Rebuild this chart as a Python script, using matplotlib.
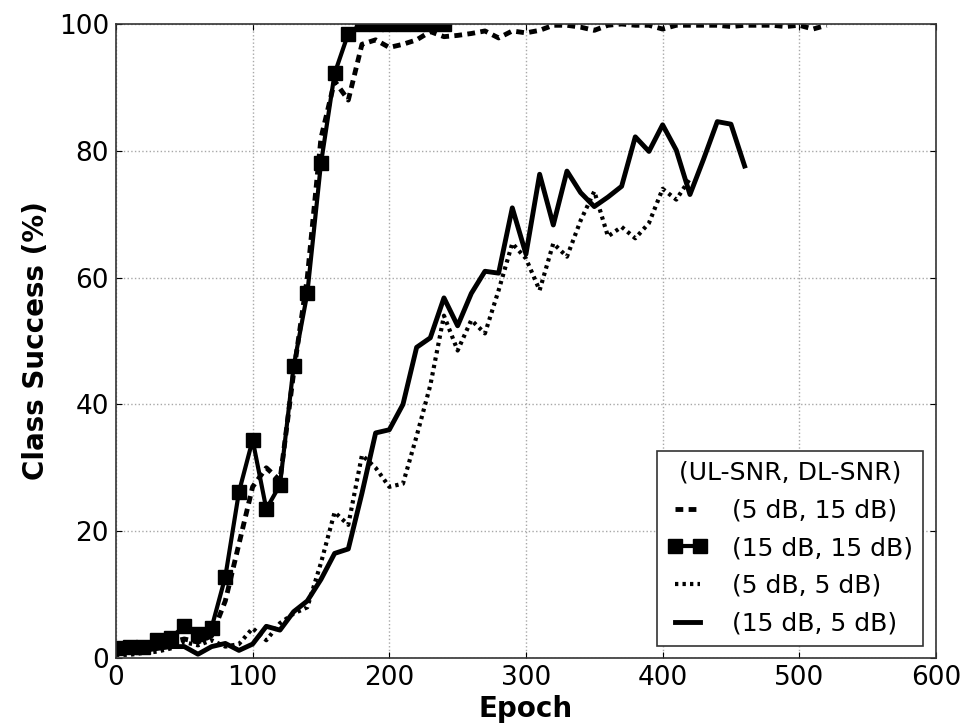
import numpy as np
import matplotlib
matplotlib.use('Agg')
import matplotlib.pyplot as plt

# epochs sampled every 10
epochs_5_15 = np.arange(0, 530, 10)
epochs_15_15 = np.arange(0, 250, 10)
epochs_5_5 = np.arange(0, 430, 10)
epochs_15_5 = np.arange(0, 470, 10)

# (UL 5 dB, DL 15 dB)
succ_5_15 = [1.0, 1.2, 1.5, 2.0, 2.5, 3.0, 2.5, 3.5, 9.0, 18.0,
             27.0, 30.0, 28.0, 45.0, 60.0, 82.0, 91.0, 88.0, 96.8, 97.5,
             96.3, 96.8, 97.5, 98.8, 98.0, 98.2, 98.5, 98.9, 97.8, 98.9,
             98.6, 99.0, 99.8, 99.8, 99.5, 99.0, 99.8, 100.0, 99.8, 99.8,
             99.2, 99.8, 99.8, 99.8, 99.8, 99.6, 99.8, 99.8, 99.8, 99.6,
             99.8, 99.2, 99.8]

# (UL 15 dB, DL 15 dB)
succ_15_15 = [1.5, 1.8, 1.8, 2.8, 3.2, 5.0, 3.8, 4.8, 12.8, 26.2,
              34.4, 23.5, 27.3, 46.0, 57.5, 78.0, 92.2, 98.5, 100.0, 100.0,
              100.0, 100.0, 100.0, 100.0, 100.0]

# (UL 5 dB, DL 5 dB)
succ_5_5 = [0.5, 0.5, 0.8, 1.0, 1.5, 2.5, 2.0, 2.8, 1.8, 2.2,
            4.7, 2.8, 5.5, 7.0, 8.0, 15.0, 23.0, 21.0, 32.0, 30.0,
            27.0, 27.5, 35.0, 43.0, 54.0, 48.5, 53.3, 51.2, 58.0, 65.4,
            63.0, 58.0, 65.4, 63.3, 69.0, 73.6, 66.5, 68.0, 66.2, 68.6,
            74.0, 72.3, 75.6]

# (UL 15 dB, DL 5 dB)
succ_15_5 = [1.0, 1.0, 1.2, 1.5, 1.8, 1.8, 0.6, 1.8, 2.3, 1.2,
             2.2, 5.0, 4.4, 7.3, 9.0, 12.4, 16.5, 17.2, 26.0, 35.5,
             36.0, 40.0, 49.0, 50.5, 56.8, 52.4, 57.5, 61.0, 60.7, 71.0,
             63.7, 76.3, 68.3, 76.8, 73.4, 71.2, 72.7, 74.4, 82.2, 79.9,
             84.1, 80.1, 73.1, 78.7, 84.6, 84.2, 77.6]

fig = plt.figure(figsize=(9.64, 7.27), dpi=100)
ax = fig.add_axes([0.1203, 0.0949, 0.8506, 0.8721])

ax.plot(epochs_5_15, succ_5_15, color='k', lw=3.5, dashes=(1.6, 1.1),
        label='(5 dB, 15 dB)')
ax.plot(epochs_15_15, succ_15_15, color='k', lw=3, marker='s', markersize=10,
        label='(15 dB, 15 dB)')
ax.plot(epochs_5_5, succ_5_5, color='k', lw=3, dashes=(0.8, 1.0),
        label='(5 dB, 5 dB)')
ax.plot(epochs_15_5, succ_15_5, color='k', lw=3.5, linestyle='-',
        label='(15 dB, 5 dB)')

ax.set_xlim(0, 600)
ax.set_ylim(0, 100)
ax.set_xticks(np.arange(0, 700, 100))
ax.set_yticks(np.arange(0, 120, 20))
ax.tick_params(direction='in', length=4, labelsize=19, pad=5,
               top=True, right=True)
ax.grid(True, color='#a8a8a8', linestyle=':', linewidth=1)

ax.set_xlabel('Epoch', fontsize=20, fontweight='bold', labelpad=3)
ax.set_ylabel('Class Success (%)', fontsize=20, fontweight='bold', labelpad=6)

for sp in ax.spines.values():
    sp.set_color('#333333')
    sp.set_linewidth(1.2)

leg = ax.legend(title='(UL-SNR, DL-SNR)', loc='lower right', fontsize=18,
                title_fontsize=18, fancybox=False, framealpha=1,
                edgecolor='#333333', handlelength=1.6, handletextpad=1.0,
                labelspacing=0.55, borderpad=0.4, numpoints=2)
leg.get_frame().set_linewidth(1.2)

fig.savefig('out.png', dpi=100)
